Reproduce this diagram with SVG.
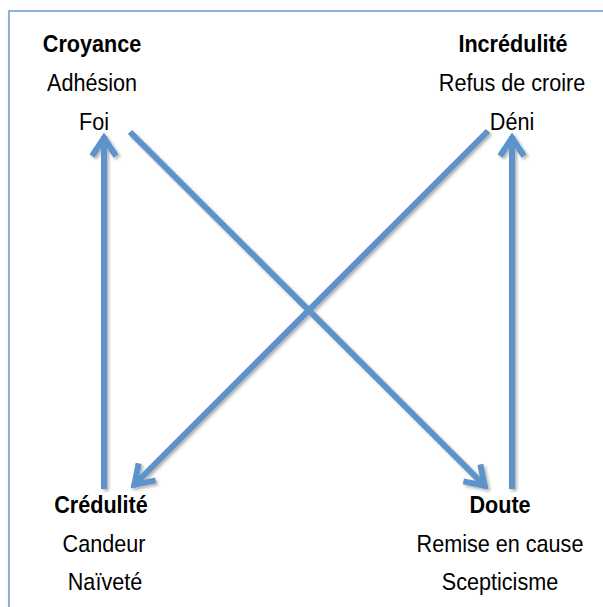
<svg xmlns="http://www.w3.org/2000/svg" width="603" height="607" viewBox="0 0 603 607">
<defs>
<style>
.t{font-family:"Liberation Sans",Arial,sans-serif;font-size:24px;fill:#000;text-anchor:middle}
.b{font-weight:bold}
.c{stroke:#5d92cb;stroke-width:6;fill:none;marker-end:url(#ah)}
</style>
<filter id="sh" x="-10%" y="-10%" width="130%" height="130%">
<feDropShadow dx="2" dy="2" stdDeviation="1.5" flood-color="#000" flood-opacity="0.3"/>
</filter>
<filter id="fs" x="-5%" y="-5%" width="120%" height="120%">
<feDropShadow dx="2" dy="3" stdDeviation="2.5" flood-color="#000" flood-opacity="0.25"/>
</filter>
<marker id="ah" markerUnits="userSpaceOnUse" markerWidth="40" markerHeight="40" viewBox="-30 -20 40 40" refX="0" refY="0" orient="auto">
<path d="M-20,-12 L-2,0 L-20,12" fill="none" stroke="#5d92cb" stroke-width="6" stroke-linejoin="miter"/>
</marker>
</defs>
<rect width="603" height="607" fill="#fff"/>
<rect x="9" y="11" width="640" height="640" fill="#fff" stroke="#6a9bd0" stroke-width="1.5" filter="url(#fs)"/>
<g id="connectors" filter="url(#sh)">
<path class="c" d="M104,489 L104,136"/>
<path class="c" d="M130,132 L486,487"/>
<path class="c" d="M488,131 L133,486"/>
<path class="c" d="M512,489 L512,136"/>
</g>
<g id="croyance">
<text class="t b" transform="translate(92,52) scale(0.9,1)">Croyance</text>
<text class="t" transform="translate(92,91) scale(0.9,1)">Adhésion</text>
<text class="t" transform="translate(94,130) scale(0.9,1)">Foi</text>
</g>
<g id="incredulite">
<text class="t b" transform="translate(513,52) scale(0.9,1)">Incrédulité</text>
<text class="t" transform="translate(512,91) scale(0.9,1)">Refus de croire</text>
<text class="t" transform="translate(512,130) scale(0.9,1)">Déni</text>
</g>
<g id="credulite">
<text class="t b" transform="translate(101,513) scale(0.9,1)">Crédulité</text>
<text class="t" transform="translate(104,552) scale(0.9,1)">Candeur</text>
<text class="t" transform="translate(105,590) scale(0.9,1)">Naïveté</text>
</g>
<g id="doute">
<text class="t b" transform="translate(500,513) scale(0.9,1)">Doute</text>
<text class="t" transform="translate(500,552) scale(0.9,1)">Remise en cause</text>
<text class="t" transform="translate(500,590) scale(0.9,1)">Scepticisme</text>
</g>
</svg>
